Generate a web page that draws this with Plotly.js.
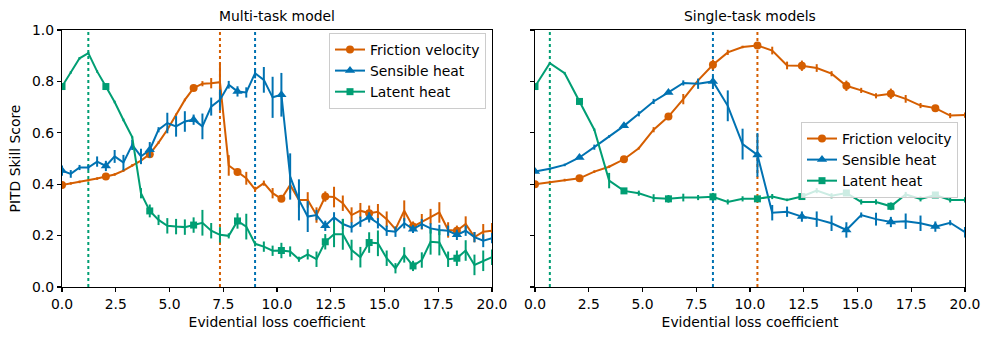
<!DOCTYPE html>
<html>
<head>
<meta charset="utf-8">
<script src="https://cdn.plot.ly/plotly-3.0.1.min.js"></script>
<style>
  html, body { margin: 0; padding: 0; background: #fff; }
  #plot { width: 989px; height: 340px; }
</style>
</head>
<body>
<div id="plot"></div>
<script>
// Evidential loss coefficients (multi-task: 50 runs, single-task: 30 runs)
const coefMulti = [0, 0.408, 0.816, 1.224, 1.633, 2.041, 2.449, 2.857, 3.265, 3.673,
    4.082, 4.490, 4.898, 5.306, 5.714, 6.122, 6.531, 6.939, 7.347, 7.755,
    8.163, 8.571, 8.980, 9.388, 9.796, 10.204, 10.612, 11.020, 11.429, 11.837,
    12.245, 12.653, 13.061, 13.469, 13.878, 14.286, 14.694, 15.102, 15.510, 15.918,
    16.327, 16.735, 17.143, 17.551, 17.959, 18.367, 18.776, 19.184, 19.592, 20.0];
const coefSingle = [0, 0.690, 1.379, 2.069, 2.759, 3.448, 4.138, 4.828, 5.517, 6.207,
    6.897, 7.586, 8.276, 8.966, 9.655, 10.345, 11.034, 11.724, 12.414, 13.103,
    13.793, 14.483, 15.172, 15.862, 16.552, 17.241, 17.931, 18.621, 19.310, 20.0];

// Multi-task model scores
const multiFriction = [0.397, 0.403, 0.409, 0.415, 0.422, 0.430, 0.438, 0.453, 0.473, 0.492,
    0.517, 0.562, 0.612, 0.670, 0.728, 0.774, 0.791, 0.793, 0.797, 0.473,
    0.447, 0.423, 0.380, 0.404, 0.365, 0.343, 0.397, 0.339, 0.339, 0.280,
    0.352, 0.350, 0.326, 0.280, 0.297, 0.287, 0.293, 0.264, 0.225, 0.297,
    0.235, 0.254, 0.274, 0.290, 0.222, 0.219, 0.245, 0.194, 0.215, 0.219];
const multiFrictionErr = [0.005, 0.005, 0.005, 0.005, 0.005, 0.005, 0.005, 0.005, 0.005, 0.01,
    0.01, 0.005, 0.005, 0.005, 0.005, 0.01, 0.01, 0.02, 0.075, 0.04,
    0.01, 0.025, 0.01, 0.01, 0.02, 0.01, 0.03, 0.03, 0.03, 0.03,
    0.02, 0.04, 0.03, 0.03, 0.03, 0.03, 0.03, 0.03, 0.01, 0.04,
    0.02, 0.03, 0.03, 0.04, 0.03, 0.02, 0.03, 0.02, 0.03, 0.03];

const multiSensible = [0.453, 0.440, 0.465, 0.465, 0.488, 0.471, 0.508, 0.484, 0.553, 0.508,
    0.534, 0.612, 0.638, 0.625, 0.644, 0.651, 0.625, 0.702, 0.728, 0.787,
    0.761, 0.757, 0.832, 0.806, 0.738, 0.748, 0.430, 0.339, 0.274, 0.280,
    0.238, 0.271, 0.245, 0.232, 0.254, 0.271, 0.248, 0.219, 0.215, 0.248,
    0.225, 0.245, 0.228, 0.222, 0.219, 0.203, 0.219, 0.194, 0.180, 0.190];
const multiSensibleErr = [0.02, 0.015, 0.01, 0.01, 0.02, 0.02, 0.025, 0.03, 0.02, 0.03,
    0.03, 0.01, 0.04, 0.04, 0.04, 0.02, 0.05, 0.035, 0.04, 0.015,
    0.02, 0.02, 0.02, 0.05, 0.08, 0.085, 0.09, 0.08, 0.06, 0.02,
    0.02, 0.02, 0.02, 0.02, 0.02, 0.02, 0.02, 0.02, 0.02, 0.02,
    0.015, 0.02, 0.02, 0.02, 0.02, 0.02, 0.02, 0.02, 0.025, 0.02];

const multiLatent = [0.780, 0.835, 0.890, 0.910, 0.839, 0.780, 0.720, 0.650, 0.583, 0.365,
    0.296, 0.261, 0.238, 0.235, 0.233, 0.241, 0.250, 0.219, 0.203, 0.199,
    0.257, 0.235, 0.168, 0.157, 0.141, 0.142, 0.138, 0.108, 0.127, 0.108,
    0.176, 0.205, 0.205, 0.144, 0.116, 0.173, 0.170, 0.112, 0.073, 0.125,
    0.082, 0.105, 0.176, 0.173, 0.108, 0.112, 0.142, 0.086, 0.102, 0.116];
const multiLatentErr = [0.01, 0.005, 0.005, 0.005, 0.005, 0.01, 0.005, 0.005, 0.005, 0.02,
    0.025, 0.02, 0.03, 0.03, 0.03, 0.03, 0.05, 0.03, 0.03, 0.01,
    0.03, 0.05, 0.01, 0.02, 0.02, 0.03, 0.02, 0.01, 0.02, 0.03,
    0.03, 0.05, 0.06, 0.04, 0.04, 0.04, 0.05, 0.03, 0.02, 0.03,
    0.02, 0.03, 0.05, 0.05, 0.03, 0.03, 0.04, 0.04, 0.04, 0.03];

// Single-task model scores
const singleFriction = [0.400, 0.408, 0.416, 0.423, 0.449, 0.468, 0.497, 0.540, 0.612, 0.663,
    0.731, 0.804, 0.865, 0.913, 0.934, 0.940, 0.920, 0.862, 0.861, 0.852,
    0.830, 0.783, 0.765, 0.744, 0.752, 0.732, 0.706, 0.696, 0.667, 0.669];
const singleFrictionErr = [0.005, 0.005, 0.005, 0.005, 0.005, 0.005, 0.005, 0.005, 0.01, 0.005,
    0.02, 0.005, 0.02, 0.01, 0.005, 0.01, 0.015, 0.015, 0.02, 0.015,
    0.01, 0.02, 0.01, 0.01, 0.02, 0.015, 0.01, 0.01, 0.01, 0.01];

const singleSensible = [0.449, 0.460, 0.475, 0.504, 0.544, 0.586, 0.627, 0.674, 0.722, 0.757,
    0.794, 0.791, 0.800, 0.705, 0.556, 0.514, 0.289, 0.293, 0.274, 0.264,
    0.248, 0.222, 0.280, 0.264, 0.253, 0.256, 0.248, 0.235, 0.250, 0.213];
const singleSensibleErr = [0.005, 0.005, 0.005, 0.005, 0.01, 0.005, 0.005, 0.01, 0.01, 0.005,
    0.01, 0.02, 0.02, 0.06, 0.06, 0.085, 0.03, 0.02, 0.02, 0.03,
    0.03, 0.03, 0.01, 0.025, 0.02, 0.03, 0.03, 0.02, 0.01, 0.02];

const singleLatent = [0.780, 0.871, 0.832, 0.722, 0.612, 0.414, 0.374, 0.365, 0.346, 0.343,
    0.348, 0.348, 0.351, 0.331, 0.343, 0.343, 0.352, 0.339, 0.352, 0.375,
    0.355, 0.366, 0.331, 0.331, 0.314, 0.360, 0.343, 0.358, 0.339, 0.339];
const singleLatentErr = [0.01, 0.005, 0.005, 0.005, 0.005, 0.03, 0.01, 0.01, 0.015, 0.015,
    0.015, 0.01, 0.015, 0.01, 0.01, 0.01, 0.01, 0.005, 0.01, 0.01,
    0.01, 0.01, 0.01, 0.01, 0.015, 0.01, 0.01, 0.01, 0.01, 0.01];

const seriesNames = ['Friction velocity', 'Sensible heat', 'Latent heat'];
const seriesColors = ['#D55E00', '#0072B2', '#009E73'];
const seriesSymbols = ['circle', 'triangle-up', 'square'];
const symbolSizes = [8, 9, 7];

const FONT = 'DejaVu Sans, Verdana, sans-serif';
const W = 989, H = 340;

// Builds the line/errorbar trace, the sparse marker trace and a legend stub
function seriesTraces(x, y, err, k, axis, legendId, every) {
    const xa = axis === 1 ? 'x' : 'x2';
    const ya = axis === 1 ? 'y' : 'y2';
    const mx = [], my = [];
    for (let i = 0; i < x.length; i += every) {
        mx.push(x[i]);
        my.push(y[i]);
    }
    return [
        {
            x: x, y: y, xaxis: xa, yaxis: ya,
            type: 'scatter', mode: 'lines', showlegend: false,
            line: { color: seriesColors[k], width: 2 },
            error_y: { type: 'data', array: err, visible: true, color: seriesColors[k], thickness: 2, width: 0 },
            hoverinfo: 'skip'
        },
        {
            x: mx, y: my, xaxis: xa, yaxis: ya,
            type: 'scatter', mode: 'markers', showlegend: false,
            marker: { symbol: seriesSymbols[k], size: symbolSizes[k], color: seriesColors[k] },
            hoverinfo: 'skip'
        },
        {
            x: [null], y: [null], xaxis: xa, yaxis: ya,
            type: 'scatter', mode: 'lines+markers', name: seriesNames[k],
            legend: legendId,
            line: { color: seriesColors[k], width: 2 },
            marker: { symbol: seriesSymbols[k], size: symbolSizes[k], color: seriesColors[k] }
        }
    ];
}

const multiSets = [[multiFriction, multiFrictionErr], [multiSensible, multiSensibleErr], [multiLatent, multiLatentErr]];
const singleSets = [[singleFriction, singleFrictionErr], [singleSensible, singleSensibleErr], [singleLatent, singleLatentErr]];

let traces = [];
multiSets.forEach((s, k) => { traces = traces.concat(seriesTraces(coefMulti, s[0], s[1], k, 1, 'legend', 5)); });
singleSets.forEach((s, k) => { traces = traces.concat(seriesTraces(coefSingle, s[0], s[1], k, 2, 'legend2', 3)); });

// Dotted line at the best coefficient of each series
function argmax(arr) {
    let best = 0;
    for (let i = 1; i < arr.length; i++) if (arr[i] > arr[best]) best = i;
    return best;
}
const shapes = [];
[multiSets, singleSets].forEach((sets, p) => {
    const xs = p === 0 ? coefMulti : coefSingle;
    sets.forEach((s, k) => {
        const xv = xs[argmax(s[0])];
        shapes.push({
            type: 'line', xref: p === 0 ? 'x' : 'x2', yref: p === 0 ? 'y domain' : 'y2 domain',
            x0: xv, x1: xv, y0: 0, y1: 1, layer: 'below',
            line: { color: seriesColors[k], width: 2, dash: 'dot' }
        });
    });
});

// pixel boxes of the two panels
const leftPx = [62, 492], rightPx = [535, 965], topPx = 30, bottomPx = 287;
const yDom = [(H - bottomPx) / H, (H - topPx) / H];

const axisBase = {
    range: [0, 20], showgrid: false, zeroline: false,
    showline: true, mirror: true, linecolor: '#000', linewidth: 1.1,
    ticks: 'outside', ticklen: 4, tickwidth: 1.1, tickcolor: '#000',
    tickvals: [0, 2.5, 5, 7.5, 10, 12.5, 15, 17.5, 20], tickformat: '.1f',
    tickfont: { family: FONT, size: 13.9, color: '#000' },
    title: { text: 'Evidential loss coefficient', font: { family: FONT, size: 13.9, color: '#000' }, standoff: 6 },
    fixedrange: true
};
const yBase = {
    range: [0, 1], domain: yDom, showgrid: false, zeroline: false,
    showline: true, mirror: true, linecolor: '#000', linewidth: 1.1,
    ticks: 'outside', ticklen: 4, tickwidth: 1.1, tickcolor: '#000',
    tickvals: [0, 0.2, 0.4, 0.6, 0.8, 1.0], tickformat: '.1f',
    tickfont: { family: FONT, size: 13.9, color: '#000' },
    fixedrange: true
};

const legendBase = {
    bgcolor: 'rgba(255,255,255,0.8)', bordercolor: '#cccccc', borderwidth: 1,
    font: { family: FONT, size: 13.9, color: '#000' },
    xanchor: 'right', yanchor: 'top', itemclick: false, itemdoubleclick: false
};

const layout = {
    width: W, height: H,
    margin: { l: 0, r: 0, t: 0, b: 0 },
    paper_bgcolor: '#fff', plot_bgcolor: '#fff',
    xaxis: Object.assign({}, axisBase, { domain: [leftPx[0] / W, leftPx[1] / W], anchor: 'y' }),
    yaxis: Object.assign({}, yBase, {
        anchor: 'x',
        title: { text: 'PITD Skill Score', font: { family: FONT, size: 13.9, color: '#000' }, standoff: 8 }
    }),
    xaxis2: Object.assign({}, axisBase, { domain: [rightPx[0] / W, rightPx[1] / W], anchor: 'y2' }),
    yaxis2: Object.assign({}, yBase, { anchor: 'x2', showticklabels: false }),
    legend: Object.assign({}, legendBase, { x: 486 / W, y: (H - 33) / H }),
    legend2: Object.assign({}, legendBase, { x: 958 / W, y: (H - 122) / H }),
    shapes: shapes,
    annotations: [
        {
            text: 'Multi-task model', xref: 'x domain', yref: 'paper', x: 0.5, y: (H - 16) / H,
            showarrow: false, xanchor: 'center', yanchor: 'middle',
            font: { family: FONT, size: 13.9, color: '#000' }
        },
        {
            text: 'Single-task models', xref: 'x2 domain', yref: 'paper', x: 0.5, y: (H - 16) / H,
            showarrow: false, xanchor: 'center', yanchor: 'middle',
            font: { family: FONT, size: 13.9, color: '#000' }
        }
    ]
};

Plotly.newPlot('plot', traces, layout, { displayModeBar: false, staticPlot: true });
</script>
</body>
</html>
